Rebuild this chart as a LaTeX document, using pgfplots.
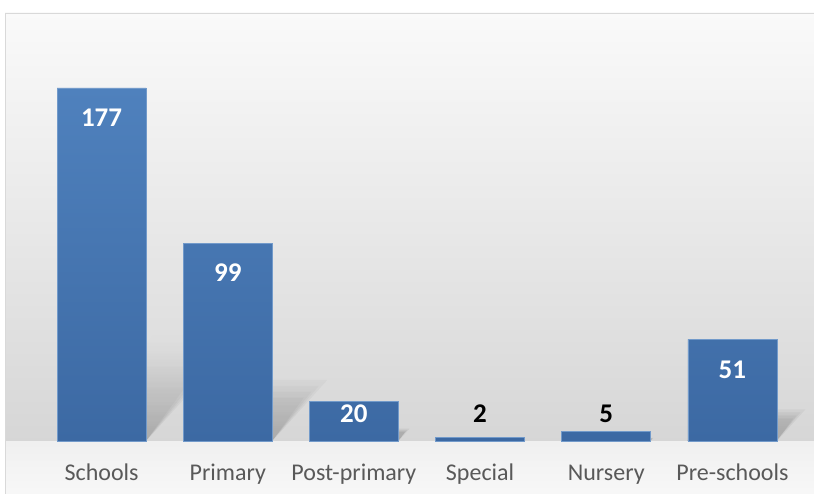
\documentclass[border=0pt]{standalone}
\usepackage{pgfplots}
\pgfplotsset{compat=1.18}
\usepackage{pgfplotstable}
\usetikzlibrary{fadings}
\usepackage{fontspec}
\setmainfont{Carlito}
\definecolor{bartop}{HTML}{4F81BD}
\definecolor{barbot}{HTML}{3C69A3}
\definecolor{ticktext}{HTML}{595959}
\definecolor{framecol}{HTML}{D9D9D9}
\tikzfading[name=shadowfade, top color=transparent!100, middle color=transparent!0, bottom color=transparent!45]
\pgfplotstableread{
x y
0 177
1 99
2 20
3 2
4 5
5 51
}\bars
\pgfplotstableread{
x ly lab
0 162 177
1 84.3 99
2 13.8 20
5 35.9 51
}\whitelabels
\pgfplotstableread{
x ly lab
3 13.8 2
4 13.8 5
}\blacklabels
\pgfplotsset{shadowbar/.style={ybar, bar width=89pt, bar shift=0pt, draw=none, fill=black,
  fill opacity=0.1, path fading=shadowfade}}
\begin{document}
\begin{tikzpicture}
\path[use as bounding box] (0,0) rectangle (814pt,493pt);
\clip (0,0) rectangle (814pt,493pt);
% chart background
\fill[white] (0,0) rectangle (814pt,493pt);
\shade[top color=white!98!black, bottom color=white!84!black] (5pt,52pt) rectangle (830pt,480pt);
\shade[top color=white!94!black, bottom color=white!97!black] (5pt,0pt) rectangle (830pt,52pt);
\draw[framecol, line width=1.2pt] (5.6pt,-10pt) -- (5.6pt,479.4pt) -- (830pt,479.4pt);
\begin{axis}[
  at={(38.5pt,52pt)}, anchor=south west,
  scale only axis, width=757pt, height=399pt,
  xmin=-0.5, xmax=5.5, ymin=0, ymax=200,
  axis line style={draw=none}, tick style={draw=none},
  ytick=\empty,
  xtick={0,1,2,3,4,5},
  xticklabels={Schools,Primary,Post-primary,Special,Nursery,Pre-schools},
  xticklabel style={anchor=base, yshift=-39pt, text=ticktext,
    font=\fontsize{24}{28}\selectfont},
  clip=false,
]
% perspective shadows (soft, layered)
\addplot[shadowbar, cm={1,0,0.16,0.22,(0pt,0pt)}] table[x=x,y=y] {\bars};
\addplot[shadowbar, cm={1,0,0.20,0.25,(0pt,0pt)}] table[x=x,y=y] {\bars};
\addplot[shadowbar, cm={1,0,0.24,0.28,(0pt,0pt)}] table[x=x,y=y] {\bars};
\addplot[shadowbar, cm={1,0,0.28,0.31,(0pt,0pt)}] table[x=x,y=y] {\bars};
\addplot[ybar, bar width=89pt, bar shift=0pt, draw=bartop!80!white, line width=0.6pt,
  top color=bartop, bottom color=barbot] table[x=x,y=y] {\bars};
\addplot[draw=none, mark=none, nodes near coords, point meta=explicit symbolic,
  nodes near coords style={anchor=center, text=white, inner sep=0pt,
    font=\fontsize{27}{30}\selectfont\bfseries}]
  table[x=x,y=ly,meta=lab] {\whitelabels};
\addplot[draw=none, mark=none, nodes near coords, point meta=explicit symbolic,
  nodes near coords style={anchor=center, text=black, inner sep=0pt,
    font=\fontsize{27}{30}\selectfont\bfseries}]
  table[x=x,y=ly,meta=lab] {\blacklabels};
\end{axis}
\end{tikzpicture}
\end{document}
